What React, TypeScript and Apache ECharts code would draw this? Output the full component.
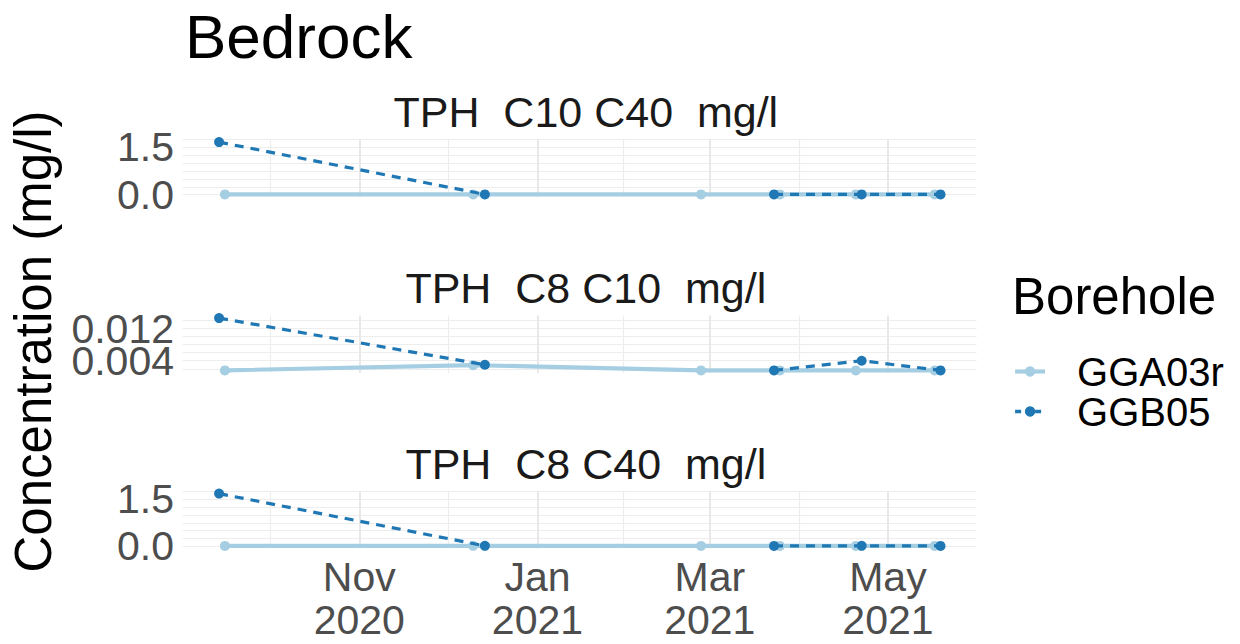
import React, { useEffect, useRef } from 'react';
import * as echarts from 'echarts';

// ---- data ----
const chartTitle = 'Bedrock';
const yAxisTitle = 'Concentration (mg/l)';
const legendTitle = 'Borehole';
const seriesNames = ['GGA03r', 'GGB05'];
const panelTitles = ['TPH  C10 C40  mg/l', 'TPH  C8 C10  mg/l', 'TPH  C8 C40  mg/l'];

const ggaDates = ['2020-09-16', '2020-12-10', '2021-02-26', '2021-03-25', '2021-04-20', '2021-05-17'];
const ggbDates = ['2020-09-14', '2020-12-14', '2021-02-26', '2021-03-23', '2021-04-22', '2021-05-19'];

const ggaC10C40 = [0.01, 0.01, 0.01, 0.01, 0.01, 0.01];
const ggbC10C40 = [1.67, 0.01, null, 0.01, 0.01, 0.01];
const ggaC8C10 = [0.0016, 0.0029, 0.0016, 0.0016, 0.0016, 0.0016];
const ggbC8C10 = [0.0146, 0.003, null, 0.0016, 0.004, 0.0016];
const ggaC8C40 = [0.012, 0.013, 0.012, 0.012, 0.012, 0.012];
const ggbC8C40 = [1.68, 0.013, null, 0.012, 0.014, 0.012];

const yLabelValues = [[0, 1.5], [0.004, 0.012], [0, 1.5]];
const yLabelDecimals = [1, 3, 1];
const yGridValues = [
  [0, 0.25, 0.5, 0.75, 1.0, 1.25, 1.5, 1.75],
  [0.002, 0.004, 0.006, 0.008, 0.01, 0.012, 0.014],
  [0, 0.25, 0.5, 0.75, 1.0, 1.25, 1.5, 1.75],
];
const xLabelDates = ['2020-11-01', '2021-01-01', '2021-03-01', '2021-05-01'];
const xLabelTexts = ['Nov\n2020', 'Jan\n2021', 'Mar\n2021', 'May\n2021'];
const xMinorDates = ['2020-10-01T12:00:00Z', '2020-12-01T12:00:00Z', '2021-01-30T12:00:00Z', '2021-03-31T12:00:00Z'];

const colors = ['#a6cee3', '#1f78b4'];
const FONT = 'Liberation Sans, Arial, sans-serif';

const ts = (d: string) => new Date(d.length === 10 ? d + 'T00:00:00Z' : d).getTime();

const panels = [
  [ggaC10C40, ggbC10C40],
  [ggaC8C10, ggbC8C10],
  [ggaC8C40, ggbC8C40],
];

const panelTops = [139.5, 315.5, 491];
const panelHeight = 57.5;
const panelLeft = 183;
const panelRight = 976.6;

function expand(vals: number[]): [number, number] {
  const mn = Math.min(...vals);
  const mx = Math.max(...vals);
  const r = mx - mn;
  return [mn - 0.05 * r, mx + 0.05 * r];
}

export default function App() {
  const ref = useRef<HTMLDivElement>(null);
  useEffect(() => {
    document.body.style.margin = '0';
    const chart = echarts.init(ref.current!, undefined, { renderer: 'svg' });

    const allT = [...ggaDates, ...ggbDates].map(ts);
    const [xMin, xMax] = expand(allT);
    const xLabelTs = xLabelDates.map(ts);
    const majorX = xLabelTs;
    const minorX = xMinorDates.map(ts);

    const grids: any[] = [];
    const xAxes: any[] = [];
    const yAxes: any[] = [];
    const series: any[] = [];
    const graphics: any[] = [];

    panels.forEach((pair, i) => {
      grids.push({
        left: panelLeft,
        width: panelRight - panelLeft,
        top: panelTops[i],
        height: panelHeight,
        containLabel: false,
      });
      const isBottom = i === panels.length - 1;
      xAxes.push({
        type: 'value',
        gridIndex: i,
        min: xMin,
        max: xMax,
        scale: true,
        axisLine: { show: false },
        axisTick: { show: false },
        splitLine: { show: false },
        axisLabel: {
          show: isBottom,
          customValues: xLabelTs,
          margin: 7,
          fontSize: 41,
          lineHeight: 43,
          color: '#4d4d4d',
          fontFamily: FONT,
          hideOverlap: false,
          formatter: (v: number) => {
            const k = xLabelTs.findIndex((t) => Math.abs(t - v) < 3600000);
            return k >= 0 ? xLabelTexts[k] : '';
          },
        },
      });
      const vals = [...pair[0], ...pair[1]].filter((v) => v !== null) as number[];
      const [yMin, yMax] = expand(vals);
      // one y axis per shown tick label (so that close labels are never dropped)
      const yIndex = yAxes.length;
      yLabelValues[i].forEach((lv) => {
        yAxes.push({
          type: 'value',
          gridIndex: i,
          position: 'left',
          offset: 0,
          min: yMin,
          max: yMax,
          scale: true,
          axisLine: { show: false },
          axisTick: { show: false },
          splitLine: { show: false },
          axisLabel: {
            customValues: [lv],
            margin: 9,
            fontSize: 41,
            color: '#4d4d4d',
            fontFamily: FONT,
            hideOverlap: false,
            formatter: (v: number) => v.toFixed(yLabelDecimals[i]),
          },
        });
      });
      // gridlines (minor then major)
      series.push({
        type: 'line',
        xAxisIndex: i,
        yAxisIndex: yIndex,
        data: [],
        silent: true,
        z: 1,
        markLine: {
          silent: true,
          z: 1,
          precision: 8,
          symbol: ['none', 'none'],
          label: { show: false },
          emphasis: { disabled: true },
          lineStyle: { color: '#ededed', width: 1.2, type: 'solid' },
          data: [
            ...yGridValues[i].map((v) => ({ yAxis: v })),
            ...minorX.map((t) => ({ xAxis: t })),
          ],
        },
      });
      series.push({
        type: 'line',
        xAxisIndex: i,
        yAxisIndex: yIndex,
        data: [],
        silent: true,
        z: 1,
        markLine: {
          silent: true,
          z: 1,
          precision: 8,
          symbol: ['none', 'none'],
          label: { show: false },
          emphasis: { disabled: true },
          lineStyle: { color: '#e8e8e8', width: 2, type: 'solid' },
          data: majorX.map((t) => ({ xAxis: t })),
        },
      });
      pair.forEach((vals2, s) => {
        const dates = s === 0 ? ggaDates : ggbDates;
        series.push({
          name: seriesNames[s],
          type: 'line',
          xAxisIndex: i,
          yAxisIndex: yIndex,
          data: dates.map((d, k) => [ts(d), vals2[k]]),
          connectNulls: false,
          symbol: 'circle',
          symbolSize: 10,
          showSymbol: true,
          showAllSymbol: true,
          z: 3 + s,
          itemStyle: { color: colors[s] },
          lineStyle: s === 0
            ? { color: colors[s], width: 4.2, type: 'solid' }
            : { color: colors[s], width: 3.2, type: [9, 7] },
          emphasis: { disabled: true },
        });
      });
      graphics.push({
        type: 'text',
        x: (panelLeft + panelRight) / 2 + 6,
        y: panelTops[i] - 27.5,
        style: {
          text: panelTitles[i],
          fill: '#1a1a1a',
          font: `43px ${FONT}`,
          textAlign: 'center',
          textVerticalAlign: 'middle',
        },
      });
    });

    graphics.push({
      type: 'text',
      x: 185,
      y: 36,
      style: {
        text: chartTitle,
        fill: '#000000',
        font: `62px ${FONT}`,
        textAlign: 'left',
        textVerticalAlign: 'middle',
      },
    });
    graphics.push({
      type: 'text',
      x: 33,
      y: 341.5,
      rotation: Math.PI / 2,
      style: {
        text: yAxisTitle,
        fill: '#000000',
        font: `51px ${FONT}`,
        textAlign: 'center',
        textVerticalAlign: 'middle',
      },
    });
    graphics.push({
      type: 'text',
      x: 1012,
      y: 296,
      style: {
        text: legendTitle,
        fill: '#000000',
        font: `51px ${FONT}`,
        textAlign: 'left',
        textVerticalAlign: 'middle',
      },
    });

    chart.setOption({
      animation: false,
      backgroundColor: '#ffffff',
      grid: grids,
      xAxis: xAxes,
      yAxis: yAxes,
      series,
      graphic: graphics,
      legend: {
        data: [
          { name: seriesNames[0], lineStyle: { width: 4.2 } },
          { name: seriesNames[1], lineStyle: { width: 3.6, type: [6, 4] } },
        ],
        orient: 'vertical',
        left: 1013,
        top: 351.5,
        padding: 0,
        itemGap: 0,
        itemWidth: 30,
        itemHeight: 13,
        selectedMode: false,
        textStyle: {
          fontSize: 40,
          lineHeight: 35,
          color: '#000000',
          fontFamily: FONT,
          padding: [0, 0, 0, 27],
        },
      },
    });
    return () => chart.dispose();
  }, []);
  return (
    <div
      ref={ref}
      style={{ position: 'fixed', left: 0, top: 0, width: 1240, height: 644, background: '#fff' }}
    />
  );
}
